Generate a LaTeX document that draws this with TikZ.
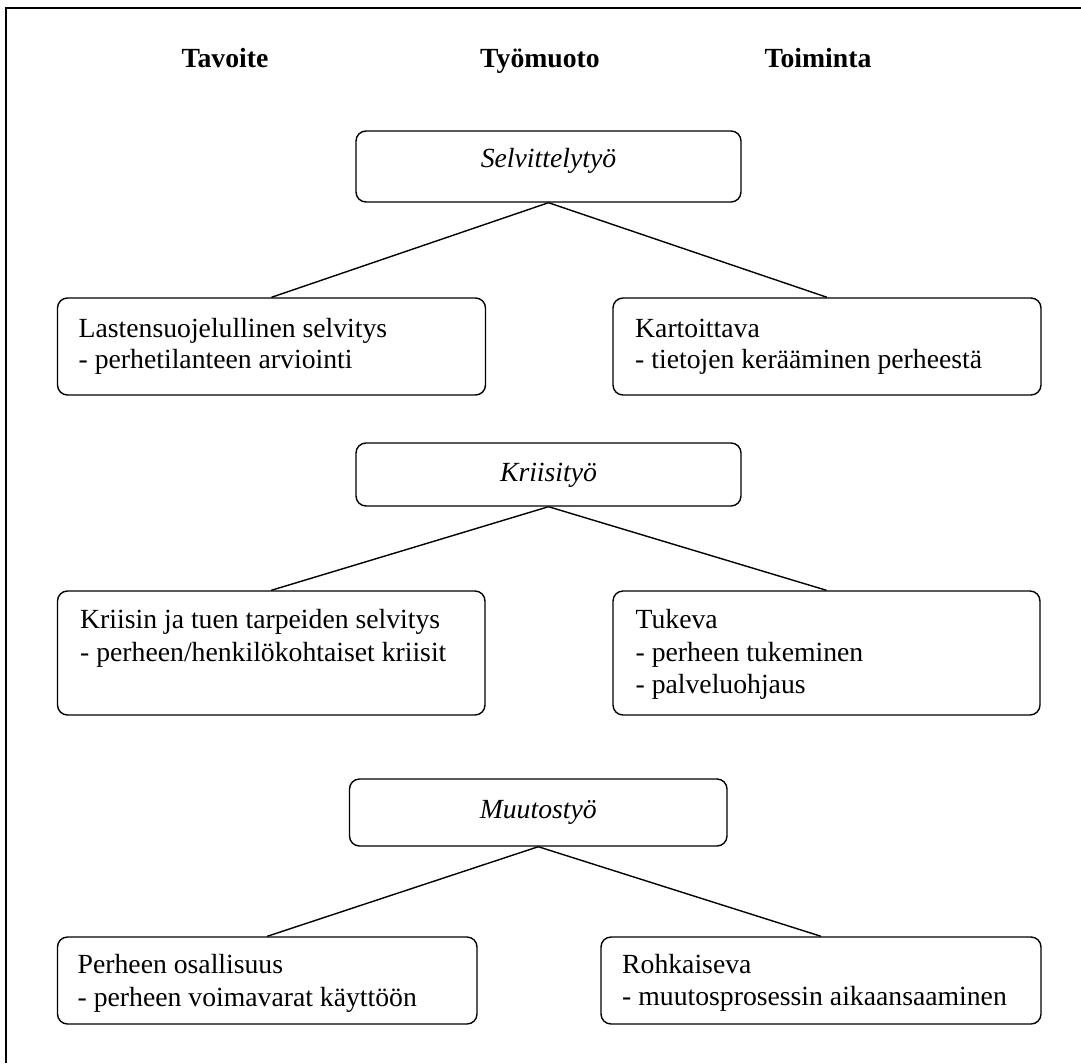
\documentclass[tikz,border=0pt]{standalone}
\usepackage{fontspec}
\setmainfont{Liberation Serif}
\begin{document}
\begin{tikzpicture}[x=1pt,y=-1pt,
  font=\fontsize{27.7}{32}\selectfont,
  box/.style={draw, rounded corners=10pt, line width=1.4pt, inner sep=0pt},
  txt/.style={inner sep=0pt, anchor=base west},
  ttl/.style={inner sep=0pt, anchor=base, font=\fontsize{27.7}{32}\selectfont\itshape},
  hdr/.style={inner sep=0pt, anchor=base, font=\fontsize{27.7}{32}\selectfont\bfseries},
  link/.style={line width=1.4pt}]
\useasboundingbox (0,0) rectangle (1081,1063);
% frame (top and left edges visible)
\coordinate (fbl) at (6,1063);
\coordinate (ftl) at (6,8);
\coordinate (ftr) at (1081,8);
\draw[line width=2.2pt] (fbl) -- (ftl) -- (ftr);
% headers
\node[hdr] (h1) at (225,67) {Tavoite};
\node[hdr] (h2) at (540,67) {Työmuoto};
\node[hdr] (h3) at (818,67) {Toiminta};
% row 1
\node[box, minimum width=385pt, minimum height=71pt] (s1) at (548.5,166.5) {};
\node[box, minimum width=428pt, minimum height=97pt] (l1) at (271.5,346.5) {};
\node[box, minimum width=428pt, minimum height=97pt] (r1) at (827,346.5) {};
\node[ttl] (s1t) at (548.5,167) {Selvittelytyö};
\node[txt] (l1a) at (78.5,337) {Lastensuojelullinen selvitys};
\node[txt] (l1b) at (78.5,368.5) {- perhetilanteen arviointi};
\node[txt] (r1a) at (635,337) {Kartoittava};
\node[txt] (r1b) at (635,368.5) {- tietojen kerääminen perheestä};
\draw[link] (s1.south) -- (l1.north);
\draw[link] (s1.south) -- (r1.north);
% row 2
\node[box, minimum width=385pt, minimum height=63pt] (s2) at (548.5,474.5) {};
\node[box, minimum width=427.5pt, minimum height=124pt] (l2) at (271.25,653) {};
\node[box, minimum width=427pt, minimum height=124pt] (r2) at (826.5,653) {};
\node[ttl] (s2t) at (548.5,481) {Kriisityö};
\node[txt] (l2a) at (80,628.3) {Kriisin ja tuen tarpeiden selvitys};
\node[txt] (l2b) at (80,661.5) {- perheen/henkilökohtaiset kriisit};
\node[txt] (r2a) at (635.4,628.3) {Tukeva};
\node[txt] (r2b) at (635.4,661.5) {- perheen tukeminen};
\node[txt] (r2c) at (635.4,693) {- palveluohjaus};
\draw[link] (s2.south) -- (l2.north);
\draw[link] (s2.south) -- (r2.north);
% row 3
\node[box, minimum width=377.5pt, minimum height=67pt] (s3) at (538.25,812.5) {};
\node[box, minimum width=419.5pt, minimum height=87pt] (l3) at (267.25,980.5) {};
\node[box, minimum width=440pt, minimum height=87pt] (r3) at (821,980.5) {};
\node[ttl] (s3t) at (538.25,818.3) {Muutostyö};
\node[txt] (l3a) at (77.5,973.3) {Perheen osallisuus};
\node[txt] (l3b) at (77.5,1006) {- perheen voimavarat käyttöön};
\node[txt] (r3a) at (622,973.3) {Rohkaiseva};
\node[txt] (r3b) at (622,1005.5) {- muutosprosessin aikaansaaminen};
\draw[link] (s3.south) -- (l3.north);
\draw[link] (s3.south) -- (r3.north);
\end{tikzpicture}
\end{document}
